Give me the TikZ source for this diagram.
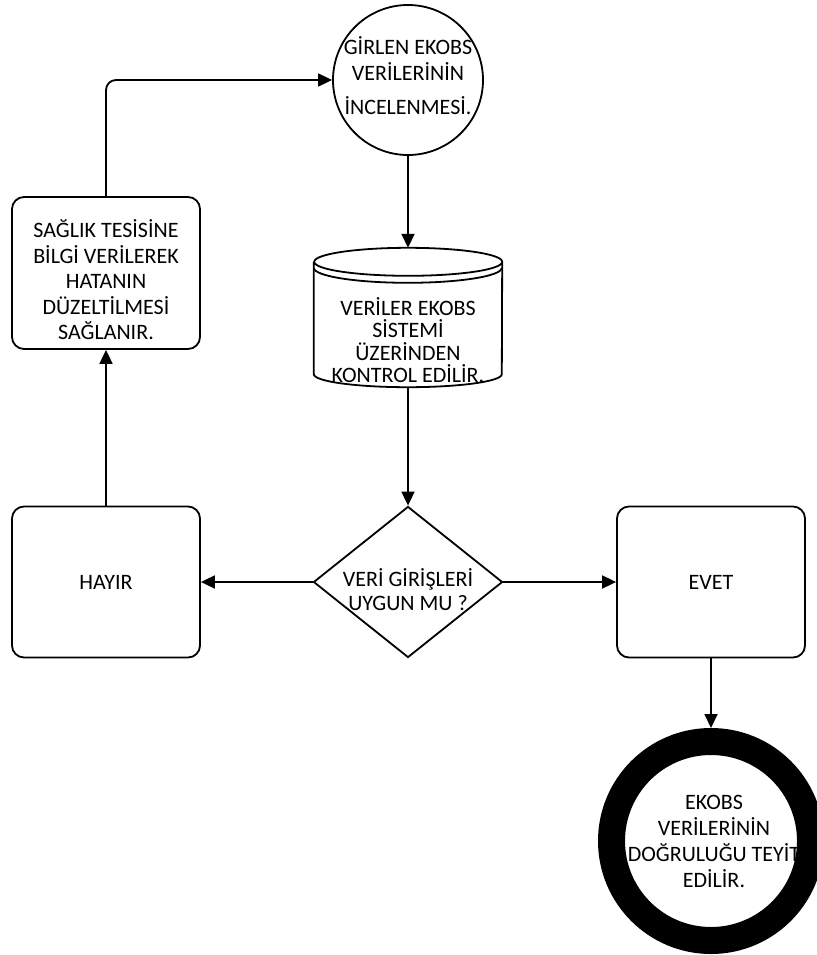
\documentclass[tikz,border=0pt]{standalone}
\usepackage{fontspec}
\setmainfont{Carlito}
\usetikzlibrary{shapes.geometric,arrows.meta}

\begin{document}
\begin{tikzpicture}[x=1pt,y=-1pt,font=\fontsize{22}{25.5}\selectfont]
\tikzstyle{ok} = [-{Triangle[length=14pt,width=13pt]}, line width=1.8pt]
\tikzstyle{kutu} = [draw, line width=1.8pt, rounded corners=12pt, minimum width=188pt, minimum height=151pt, align=center, inner sep=2pt]
\tikzstyle{yazi} = [align=center, inner sep=0]

\useasboundingbox (0,0) rectangle (816,955);

\node[circle,draw,line width=1.8pt,minimum size=150pt,inner sep=0] (v0) at (408,80) {};
\node[yazi] (v0yazi) at (408,76) {GİRLEN EKOBS\\VERİLERİNİN\\[9pt]İNCELENMESİ.};
\node[inner sep=0,minimum width=188pt,minimum height=139pt] (v1) at (408,317.5) {};
\node[yazi,font=\fontsize{22}{22.5}\selectfont] (v1yazi) at (408,340) {VERİLER EKOBS\\SİSTEMİ\\ÜZERİNDEN\\KONTROL EDİLİR.};
\node[diamond,draw,line width=1.8pt,minimum width=189pt,minimum height=151pt,aspect=1.25,inner sep=0] (v2) at (408,582) {};
\node[yazi,font=\fontsize{22}{24}\selectfont] (v2yazi) at (408,590) {VERİ GİRİŞLERİ\\UYGUN MU ?};
\node[kutu] (v3) at (106,582) {HAYIR};
\node[kutu] (v4) at (711,582) {EVET};
\node[kutu,minimum height=152pt] (v5) at (106,273) {};
\node[yazi] (v5yazi) at (106,280) {SAĞLIK TESİSİNE\\BİLGİ VERİLEREK\\HATANIN\\DÜZELTİLMESİ\\SAĞLANIR.};
\node[circle,draw,line width=27pt,minimum size=199pt,inner sep=0] (v6) at (711,841) {};
\node[yazi,font=\fontsize{22}{26}\selectfont] (v6yazi) at (714,841) {EKOBS\\VERİLERİNİN\\DOĞRULUĞU TEYİT\\EDİLİR.};

% silindir
\draw[line width=1.8pt] ([yshift=-14pt]v1.north west) -- ([yshift=13pt]v1.south west)
  arc[start angle=180,end angle=360,x radius=94pt,y radius=13pt]
  -- ([yshift=-14pt]v1.north east)
  arc[start angle=0,end angle=360,x radius=94pt,y radius=14pt];
\draw[line width=1.8pt] ([yshift=-20pt]v1.north west)
  arc[start angle=180,end angle=360,x radius=94pt,y radius=15pt];

\draw[ok] (v0) -- (v1);
\draw[ok] (v1) -- (v2);
\draw[ok] (v2) -- (v3);
\draw[ok] (v2) -- (v4);
\draw[ok] (v3) -- (v5);
\draw[ok] (v4) -- (v6);
\draw[ok,rounded corners=10pt] (v5.north) |- (v0.west);

\end{tikzpicture}
\end{document}
